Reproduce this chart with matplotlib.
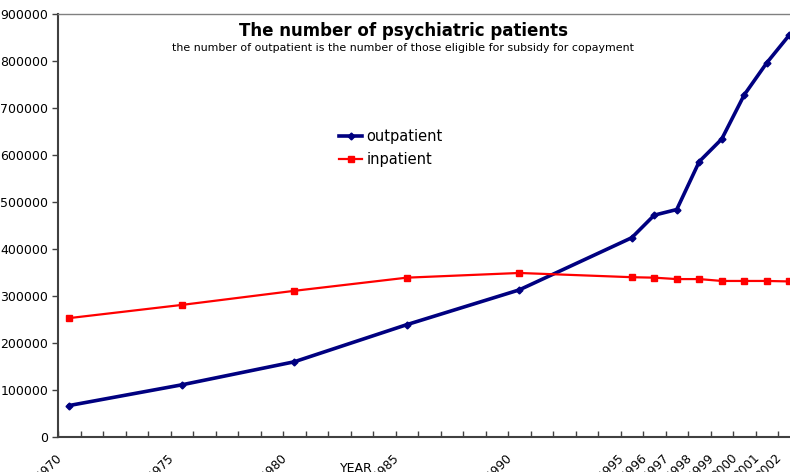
import matplotlib
matplotlib.use("Agg")
import matplotlib.pyplot as plt
import matplotlib.transforms as mtransforms
import numpy as np

years = [1970, 1975, 1980, 1985, 1990, 1995, 1996, 1997, 1998, 1999, 2000, 2001, 2002]
outpatient = [67000, 111000, 160000, 239000, 313000, 424000, 472000, 484000,
              586000, 634000, 728000, 796000, 855000]
inpatient = [253000, 281000, 311000, 339000, 349000, 340000, 339000, 336000,
             336000, 332000, 332000, 332000, 331000]
y_ticks = [0, 100000, 200000, 300000, 400000, 500000, 600000, 700000, 800000, 900000]

W, H = 790, 472
fig = plt.figure(figsize=(W / 100, H / 100), dpi=100)

# each year is one category slot; the plot area runs past the right edge
first_year = 1970
n_slots = 33
slot_px = 22.5
left_px, top_px, bottom_px = 58, 14, 437
ax = fig.add_axes([left_px / W, 1 - bottom_px / H,
                   n_slots * slot_px / W, (bottom_px - top_px) / H])

x = np.array(years) - first_year + 0.5
ax.plot(x, outpatient, color="#000080", lw=2.6, marker="D", ms=3.5,
        label="outpatient", solid_joinstyle="round")
ax.plot(x, inpatient, color="#FF0000", lw=1.6, marker="s", ms=5,
        label="inpatient")

ax.set_xlim(0, n_slots)
ax.set_ylim(0, 900000)

ax.set_yticks(y_ticks)
ax.set_yticklabels([str(v) for v in y_ticks], fontsize=9)
ax.tick_params(axis="y", direction="out", length=4, width=1, color="#404040", pad=3)

ax.set_xticks(x)
ax.set_xticklabels([str(y) for y in years], rotation=45, ha="right",
                   rotation_mode="anchor", fontsize=8.7)
ax.set_xticks(np.arange(0, n_slots + 1), minor=True)
ax.tick_params(axis="x", which="major", length=0, pad=10)
ax.tick_params(axis="x", which="minor", direction="in", length=4, width=1, color="#404040")
shift = mtransforms.ScaledTranslation(-14 / 100, 0, fig.dpi_scale_trans)
for lbl in ax.get_xticklabels():
    lbl.set_transform(lbl.get_transform() + shift)

for side in ("left", "bottom"):
    ax.spines[side].set_color("#404040")
    ax.spines[side].set_linewidth(1.5)
ax.spines["top"].set_color("#808080")
ax.spines["top"].set_linewidth(1)
ax.spines["right"].set_visible(False)

fig.text(403.5 / W, 1 - 36 / H, "The number of psychiatric patients",
         ha="center", va="baseline", fontsize=12, fontweight="bold")
fig.text(403.5 / W, 1 - 51 / H,
         "the number of outpatient is the number of those eligible for subsidy for copayment",
         ha="center", va="baseline", fontsize=7.9)
fig.text(356 / W, 1 - 462 / H, "YEAR", ha="center", va="top", fontsize=9)

ax.legend(loc="upper left", bbox_to_anchor=(339 / W, 1 - 129 / H),
          bbox_transform=fig.transFigure, frameon=False, fontsize=10.5,
          handlelength=1.6, handletextpad=0.3, borderpad=0, borderaxespad=0,
          labelspacing=0.58)

fig.savefig("out.png", dpi=100)
